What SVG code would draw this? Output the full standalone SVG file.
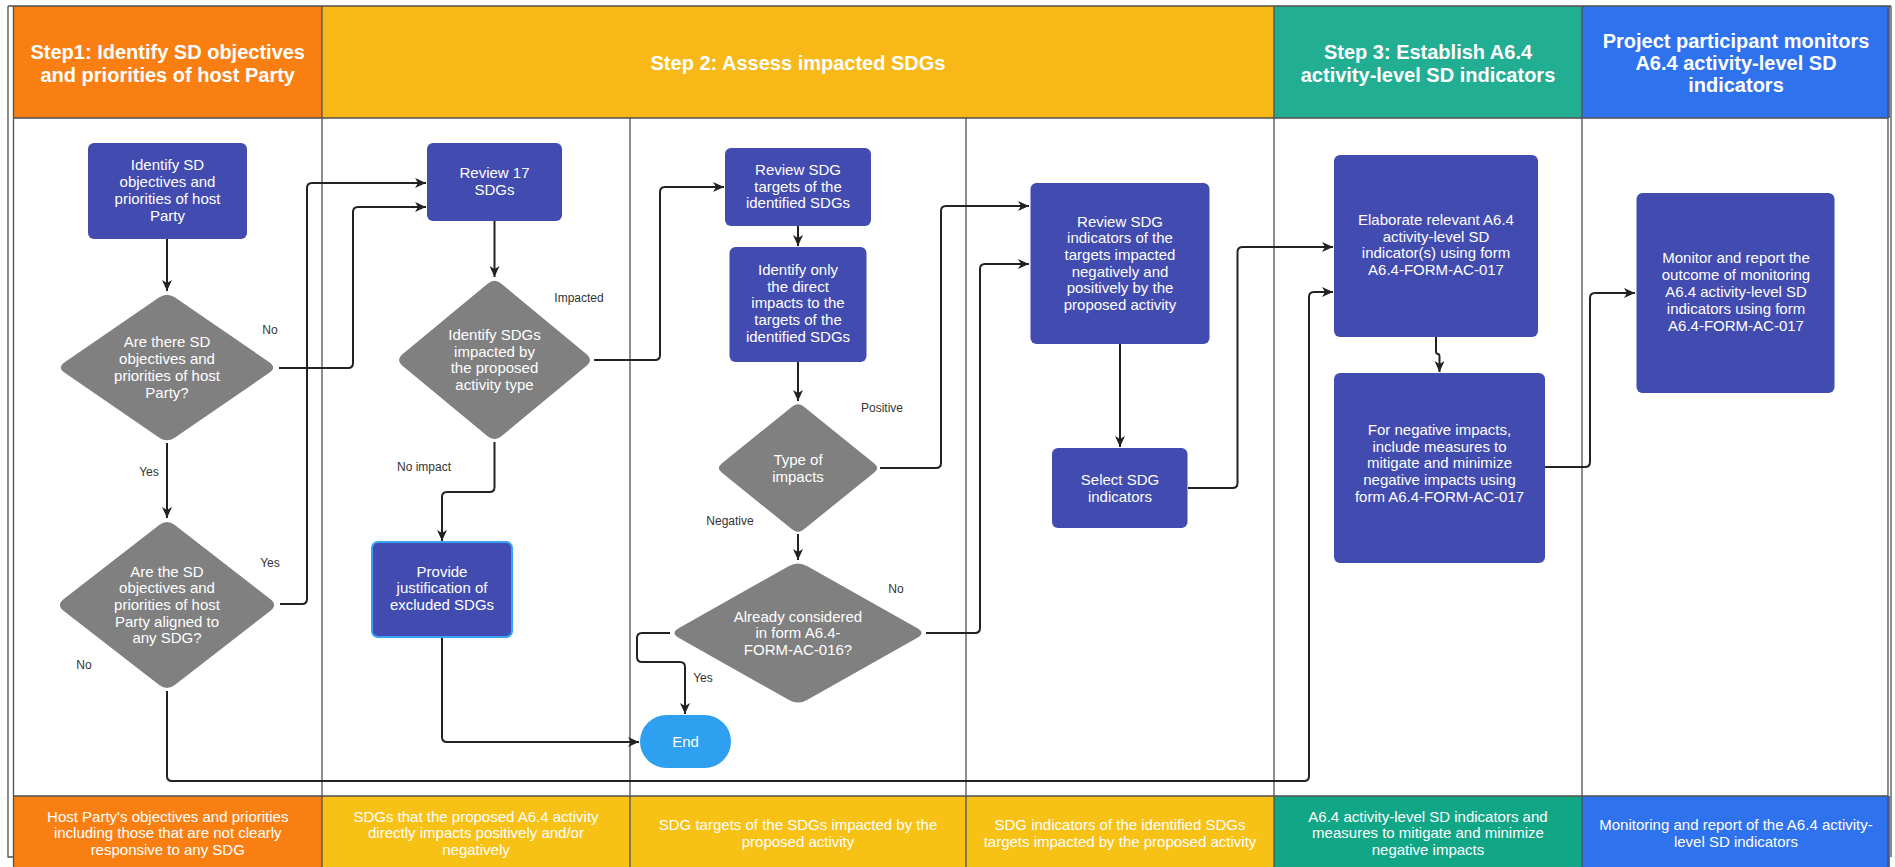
<svg xmlns="http://www.w3.org/2000/svg" width="1895" height="867" viewBox="0 0 1895 867">
<style>
.ht{font-family:"Liberation Sans",Arial,sans-serif;font-size:20px;font-weight:bold;fill:#fff;text-anchor:middle}
.ft{font-family:"Liberation Sans",Arial,sans-serif;font-size:15px;fill:#fff;text-anchor:middle}
.nt{font-family:"Liberation Sans",Arial,sans-serif;font-size:15px;fill:#fff;text-anchor:middle}
.lb{font-family:"Liberation Sans",Arial,sans-serif;font-size:12px;fill:#333;text-anchor:middle}
.box{fill:#424bb0}
.dia{fill:#808080}
.lane{stroke:#505050;stroke-width:1.3;fill:none}
.con{stroke:#222;stroke-width:2;fill:none;marker-end:url(#arr)}
</style>
<defs>
<marker id="arr" viewBox="0 0 12 12" refX="11" refY="6" markerWidth="12" markerHeight="12" markerUnits="userSpaceOnUse" orient="auto">
<path d="M0,1 L11,6 L0,11 L3,6 z" fill="#222"/>
</marker>
</defs>
<rect x="0" y="0" width="1895" height="867" fill="#fff"/>
<g id="frame">
<rect x="13.5" y="6" width="308.5" height="112" fill="#f97f13"/>
<rect x="322" y="6" width="952" height="112" fill="#f8b918"/>
<rect x="1274" y="6" width="308" height="112" fill="#22ae93"/>
<rect x="1582" y="6" width="308" height="112" fill="#2e72ee"/>
<rect x="13.5" y="796" width="308.5" height="71" fill="#f97f13"/>
<rect x="322" y="796" width="952" height="71" fill="#f8c116"/>
<rect x="1274" y="796" width="308" height="71" fill="#10a686"/>
<rect x="1582" y="796" width="308" height="71" fill="#2e72ee"/>
<path class="lane" d="M8,6 V857 H13.5 M13.5,6 V867 M8,6 H1891 M1891,6 V857 M1888,6 V867"/>
<path class="lane" d="M13.5,118 H1888 M13.5,796 H1888"/>
<path class="lane" d="M322,6 V867 M630,118 V867 M966,118 V867 M1274,6 V867 M1582,6 V867"/>
<text class="ht" x="167.75" y="59">Step1: Identify SD objectives</text>
<text class="ht" x="167.75" y="82">and priorities of host Party</text>
<text class="ht" x="798" y="70">Step 2: Assess impacted SDGs</text>
<text class="ht" x="1428" y="59">Step 3: Establish A6.4</text>
<text class="ht" x="1428" y="82">activity-level SD indicators</text>
<text class="ht" x="1736" y="48">Project participant monitors</text>
<text class="ht" x="1736" y="70">A6.4 activity-level SD</text>
<text class="ht" x="1736" y="92">indicators</text>
<text class="ft" x="167.75" y="822">Host Party's objectives and priorities</text>
<text class="ft" x="167.75" y="838">including those that are not clearly</text>
<text class="ft" x="167.75" y="855">responsive to any SDG</text>
<text class="ft" x="476" y="822">SDGs that the proposed A6.4 activity</text>
<text class="ft" x="476" y="838">directly impacts positively and/or</text>
<text class="ft" x="476" y="855">negatively</text>
<text class="ft" x="798" y="830">SDG targets of the SDGs impacted by the</text>
<text class="ft" x="798" y="847">proposed activity</text>
<text class="ft" x="1120" y="830">SDG indicators of the identified SDGs</text>
<text class="ft" x="1120" y="847">targets impacted by the proposed activity</text>
<text class="ft" x="1428" y="822">A6.4 activity-level SD indicators and</text>
<text class="ft" x="1428" y="838">measures to mitigate and minimize</text>
<text class="ft" x="1428" y="855">negative impacts</text>
<text class="ft" x="1736" y="830">Monitoring and report of the A6.4 activity-</text>
<text class="ft" x="1736" y="847">level SD indicators</text>
</g>
<g id="connectors">
<path class="con" d="M167,239 L167,291"/>
<path class="con" d="M279,368 L348,368 Q353,368 353,363 L353,212 Q353,207 358,207 L426,207"/>
<path class="con" d="M167,443 L167,518"/>
<path class="con" d="M280,604 L302,604 Q307,604 307,599 L307,188 Q307,183 312,183 L426,183"/>
<path class="con" d="M167,691 L167,776 Q167,781 172,781 L1304,781 Q1309,781 1309,776 L1309,297 Q1309,292 1314,292 L1333,292"/>
<path class="con" d="M494.5,221 L494.5,277"/>
<path class="con" d="M594,360 L655,360 Q660,360 660,355 L660,192 Q660,187 665,187 L724,187"/>
<path class="con" d="M494.5,442 L494.5,487 Q494.5,492 489.5,492 L447,492 Q442,492 442,497 L442,541"/>
<path class="con" d="M442,637 L442,737 Q442,742 447,742 L639,742"/>
<path class="con" d="M798,226 L798,246"/>
<path class="con" d="M798,362 L798,401"/>
<path class="con" d="M880,468 L936,468 Q941,468 941,463 L941,211 Q941,206 946,206 L1029,206"/>
<path class="con" d="M798,534 L798,560"/>
<path class="con" d="M926,633 L975,633 Q980,633 980,628 L980,269 Q980,264 985,264 L1029,264"/>
<path class="con" d="M670,633 L642,633 Q637,633 637,638 L637,657 Q637,662 642,662 L680,662 Q685,662 685,667 L685,714"/>
<path class="con" d="M1120,344 L1120,447"/>
<path class="con" d="M1188,488 L1232.5,488 Q1237.5,488 1237.5,483 L1237.5,252 Q1237.5,247 1242.5,247 L1333,247"/>
<path class="con" d="M1436,337 L1436,351 Q1436,354 1438,354 Q1439.5,354 1439.5,357 L1439.5,372"/>
<path class="con" d="M1545,467 L1585,467 Q1590,467 1590,462 L1590,298 Q1590,293 1595,293 L1635,293"/>
<text class="lb" x="270" y="334">No</text>
<text class="lb" x="149" y="476">Yes</text>
<text class="lb" x="270" y="567">Yes</text>
<text class="lb" x="84" y="669">No</text>
<text class="lb" x="579" y="302">Impacted</text>
<text class="lb" x="424" y="471">No impact</text>
<text class="lb" x="882" y="412">Positive</text>
<text class="lb" x="730" y="525">Negative</text>
<text class="lb" x="896" y="593">No</text>
<text class="lb" x="703" y="682">Yes</text>
</g>
<g id="n-identify-sd">
<rect class="box" x="88" y="143" width="159" height="96" rx="6"/>
<text class="nt" x="167.5" y="170">Identify SD</text>
<text class="nt" x="167.5" y="187">objectives and</text>
<text class="nt" x="167.5" y="204">priorities of host</text>
<text class="nt" x="167.5" y="221">Party</text>
</g>
<g id="n-are-there">
<path class="dia" d="M159.3,297.3 Q167,292 174.7,297.3 L269.3,362.2 Q277,367.5 269.3,372.8 L174.7,437.7 Q167,443 159.3,437.7 L64.7,372.8 Q57,367.5 64.7,362.2 Z"/>
<text class="nt" x="167" y="347">Are there SD</text>
<text class="nt" x="167" y="364">objectives and</text>
<text class="nt" x="167" y="381">priorities of host</text>
<text class="nt" x="167" y="398">Party?</text>
</g>
<g id="n-aligned">
<path class="dia" d="M159.2,525 Q167,519 174.8,525 L270.2,599 Q278,605 270.2,611 L174.8,685 Q167,691 159.2,685 L63.8,611 Q56,605 63.8,599 Z"/>
<text class="nt" x="167" y="577">Are the SD</text>
<text class="nt" x="167" y="593">objectives and</text>
<text class="nt" x="167" y="610">priorities of host</text>
<text class="nt" x="167" y="627">Party aligned to</text>
<text class="nt" x="167" y="643">any SDG?</text>
</g>
<g id="n-review17">
<rect class="box" x="427" y="143" width="135" height="78" rx="6"/>
<text class="nt" x="494.5" y="178">Review 17</text>
<text class="nt" x="494.5" y="195">SDGs</text>
</g>
<g id="n-identify-sdgs">
<path class="dia" d="M487.6,283.7 Q494.5,278 501.4,283.7 L586.6,354.3 Q593.5,360 586.6,365.7 L501.4,436.3 Q494.5,442 487.6,436.3 L402.4,365.7 Q395.5,360 402.4,354.3 Z"/>
<text class="nt" x="494.5" y="340">Identify SDGs</text>
<text class="nt" x="494.5" y="357">impacted by</text>
<text class="nt" x="494.5" y="373">the proposed</text>
<text class="nt" x="494.5" y="390">activity type</text>
</g>
<g id="n-provide">
<rect class="box" x="372" y="542" width="140" height="95" rx="6" stroke="#38a3f5" stroke-width="2"/>
<text class="nt" x="442" y="577">Provide</text>
<text class="nt" x="442" y="593">justification of</text>
<text class="nt" x="442" y="610">excluded SDGs</text>
</g>
<g id="n-targets">
<rect class="box" x="725" y="148" width="146" height="78" rx="6"/>
<text class="nt" x="798" y="175">Review SDG</text>
<text class="nt" x="798" y="192">targets of the</text>
<text class="nt" x="798" y="208">identified SDGs</text>
</g>
<g id="n-direct">
<rect class="box" x="729.5" y="247" width="137" height="115" rx="6"/>
<text class="nt" x="798" y="275">Identify only</text>
<text class="nt" x="798" y="292">the direct</text>
<text class="nt" x="798" y="308">impacts to the</text>
<text class="nt" x="798" y="325">targets of the</text>
<text class="nt" x="798" y="342">identified SDGs</text>
</g>
<g id="n-type">
<path class="dia" d="M792.3,406.6 Q798,402 803.7,406.6 L874.3,463.4 Q880,468 874.3,472.6 L803.7,529.4 Q798,534 792.3,529.4 L721.7,472.6 Q716,468 721.7,463.4 Z"/>
<text class="nt" x="798" y="465">Type of</text>
<text class="nt" x="798" y="482">impacts</text>
</g>
<g id="n-already">
<path class="dia" d="M789,566 Q798,561 807,566 L917,628 Q926,633 917,638 L807,700 Q798,705 789,700 L679,638 Q670,633 679,628 Z"/>
<text class="nt" x="798" y="622">Already considered</text>
<text class="nt" x="798" y="638">in form A6.4-</text>
<text class="nt" x="798" y="655">FORM-AC-016?</text>
</g>
<g id="n-end">
<rect x="640" y="715" width="91" height="53" rx="26.5" fill="#2f9ff0"/>
<text class="nt" x="685.5" y="747">End</text>
</g>
<g id="n-review-ind">
<rect class="box" x="1030.5" y="183" width="179" height="161" rx="6"/>
<text class="nt" x="1120" y="227">Review SDG</text>
<text class="nt" x="1120" y="243">indicators of the</text>
<text class="nt" x="1120" y="260">targets impacted</text>
<text class="nt" x="1120" y="277">negatively and</text>
<text class="nt" x="1120" y="293">positively by the</text>
<text class="nt" x="1120" y="310">proposed activity</text>
</g>
<g id="n-select">
<rect class="box" x="1052" y="448" width="135.5" height="80" rx="6"/>
<text class="nt" x="1120" y="485">Select SDG</text>
<text class="nt" x="1120" y="502">indicators</text>
</g>
<g id="n-elaborate">
<rect class="box" x="1334" y="155" width="204" height="182" rx="6"/>
<text class="nt" x="1436" y="225">Elaborate relevant A6.4</text>
<text class="nt" x="1436" y="242">activity-level SD</text>
<text class="nt" x="1436" y="258">indicator(s) using form</text>
<text class="nt" x="1436" y="275">A6.4-FORM-AC-017</text>
</g>
<g id="n-negative">
<rect class="box" x="1334" y="373" width="211" height="190" rx="6"/>
<text class="nt" x="1439.5" y="435">For negative impacts,</text>
<text class="nt" x="1439.5" y="452">include measures to</text>
<text class="nt" x="1439.5" y="468">mitigate and minimize</text>
<text class="nt" x="1439.5" y="485">negative impacts using</text>
<text class="nt" x="1439.5" y="502">form A6.4-FORM-AC-017</text>
</g>
<g id="n-monitor">
<rect class="box" x="1636.5" y="193" width="198" height="200" rx="6"/>
<text class="nt" x="1736" y="263">Monitor and report the</text>
<text class="nt" x="1736" y="280">outcome of monitoring</text>
<text class="nt" x="1736" y="297">A6.4 activity-level SD</text>
<text class="nt" x="1736" y="314">indicators using form</text>
<text class="nt" x="1736" y="331">A6.4-FORM-AC-017</text>
</g>
</svg>
